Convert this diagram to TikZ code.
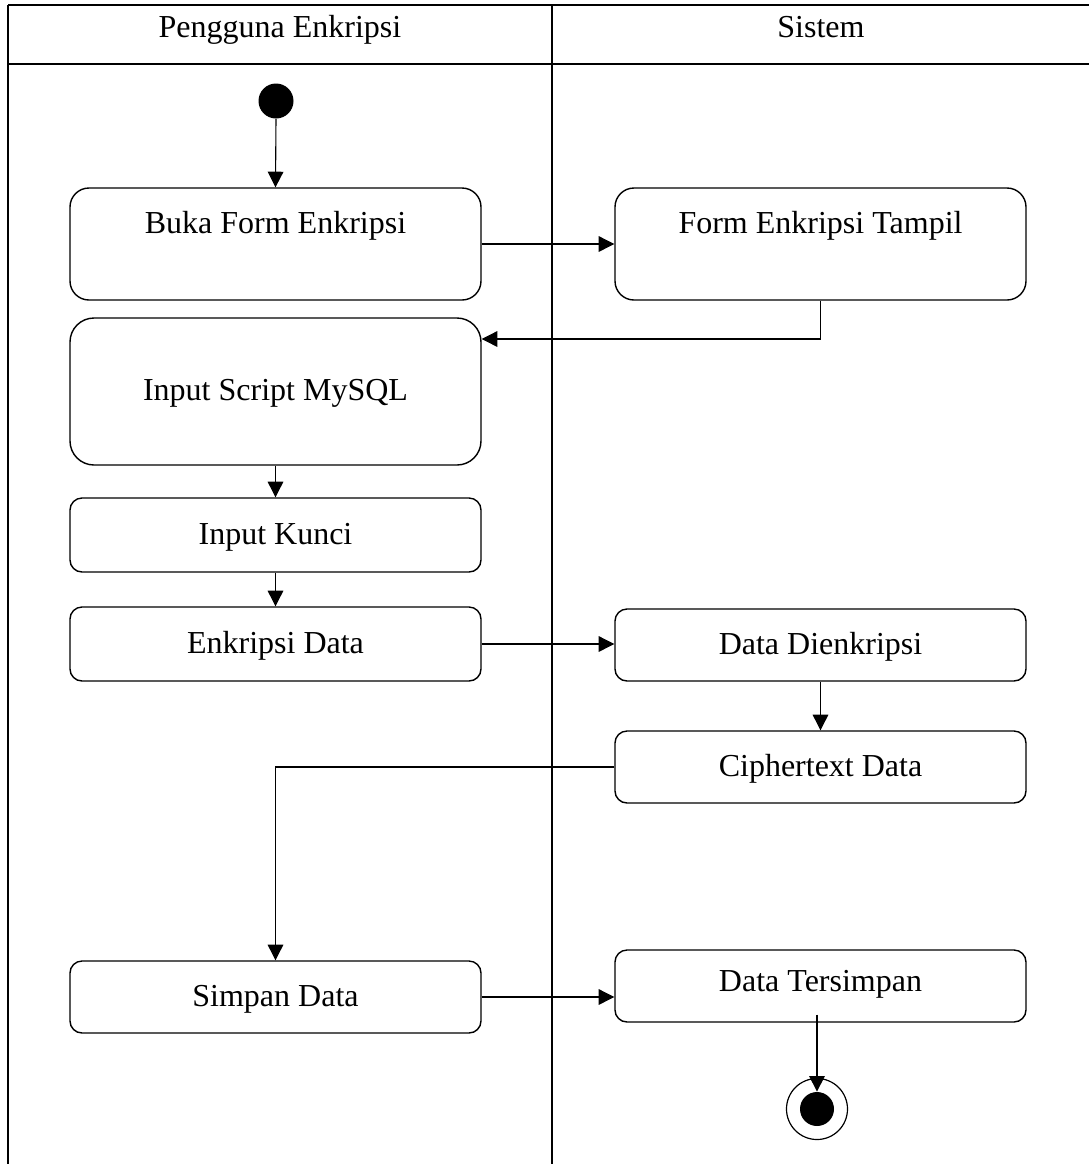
\documentclass[tikz,border=0pt]{standalone}
\usepackage{fontspec}
\setmainfont{Liberation Serif}
\usetikzlibrary{arrows.meta}
\begin{document}
\begin{tikzpicture}[x=0.5pt,y=-0.5pt,
  lane/.style={line width=0.75pt},
  txt/.style={font=\fontsize{16}{19}\selectfont, text height=0.9em, text depth=0pt},
  act/.style={draw, line width=0.7pt, minimum width=205.5pt, inner sep=0pt, txt},
  tallact/.style={act, minimum height=56pt, rounded corners=9.5pt},
  shortact/.style={act, minimum height=36pt, rounded corners=6pt},
  upper/.style={label={[txt,anchor=center,yshift=-18.5pt]north:#1}},
  flow/.style={line width=0.55pt, -{Triangle[length=7.8pt,width=7.8pt]}}]

\useasboundingbox (0,0) rectangle (1089,1164);

% swimlane frame
\draw[lane] (8,5) -- (1089,5);
\draw[lane] (8,64) -- (1089,64);
\draw[lane] (8,5) -- (8,1164);
\draw[lane] (552,5) -- (552,1164);
\node[txt] (userhdr) at (280,28) {Pengguna Enkripsi};
\node[txt] (syshdr) at (821,28) {Sistem};

% initial and final states
\node[circle, fill, inner sep=0pt, minimum size=17.5pt] (start) at (276,101) {};
\node[circle, draw, line width=0.6pt, inner sep=0pt, minimum size=30.5pt] (stop) at (817,1109) {};
\node[circle, fill, inner sep=0pt, minimum size=17pt] (stopdot) at (stop.center) {};

% activities
\node[tallact, upper={Buka Form Enkripsi}] (buka) at (275.5,244) {};
\node[tallact, upper={Form Enkripsi Tampil}] (tampil) at (820.5,244) {};
\node[act, minimum height=73.5pt, rounded corners=12pt] (script) at (275.5,391.5) {Input Script MySQL};
\node[act, minimum height=37pt, rounded corners=6pt] (kunci) at (275.5,535) {Input Kunci};
\node[act, minimum height=37pt, rounded corners=6pt] (enkripsi) at (275.5,644) {Enkripsi Data};
\node[shortact] (dienkripsi) at (820.5,645) {Data Dienkripsi};
\node[shortact] (cipher) at (820.5,767) {Ciphertext Data};
\node[shortact] (simpan) at (275.5,997) {Simpan Data};
\node[shortact] (tersimpan) at (820.5,986) {\raisebox{2pt}{Data Tersimpan}};

% control flow
\coordinate (turn) at (tampil.south |- 0,339);
\draw[flow] (start.south) -- (buka.north);
\draw[flow] (buka.east) -- (buka.east -| tampil.west);
\draw[flow] (tampil.south) -- (turn) -- (turn -| script.east);
\draw[flow] (script.south) -- (kunci.north);
\draw[flow] (kunci.south) -- (enkripsi.north);
\draw[flow] (enkripsi.east) -- (enkripsi.east -| dienkripsi.west);
\draw[flow] (dienkripsi.south) -- (cipher.north);
\draw[flow] (cipher.west) -| (simpan.north);
\draw[flow] (simpan.east) -- (simpan.east -| tersimpan.west);
\draw[flow] ([yshift=4pt]tersimpan.south -| stopdot.north) -- (stopdot.north);
\end{tikzpicture}
\end{document}
